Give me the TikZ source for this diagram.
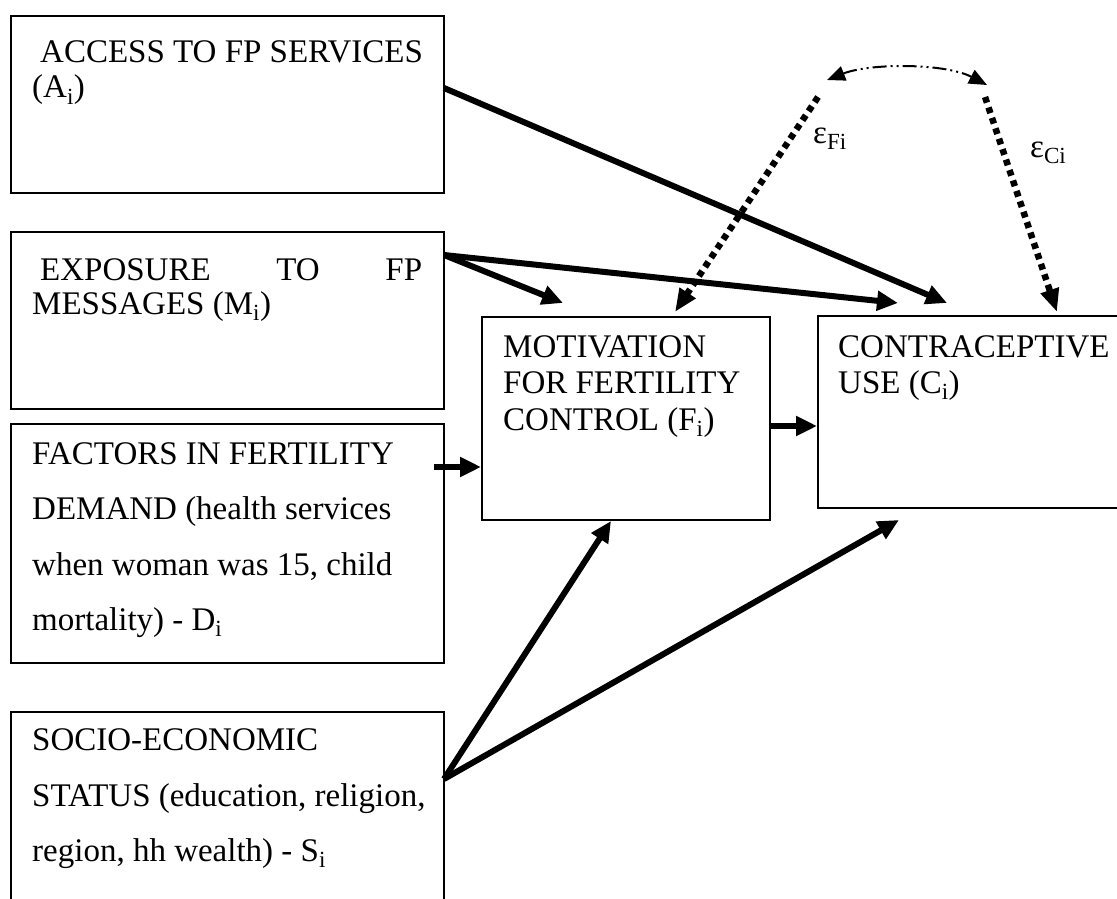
\documentclass[tikz,border=0pt]{standalone}
\usepackage{fontspec}
\setmainfont{Liberation Serif}
\usetikzlibrary{arrows.meta}
\begin{document}
\begin{tikzpicture}[x=1pt,y=-1pt,
  box/.style={draw, line width=2pt, inner sep=0pt},
  txt/.style={inner sep=0pt, anchor=base west, font=\fontsize{33}{36}\selectfont},
  thickarrow/.style={line width=6pt, -{Triangle[length=21pt,width=19pt]}},
  dotarrow/.style={line width=6.5pt, dash pattern=on 6pt off 5pt, -{Triangle[length=23pt,width=18pt]}},
  corr/.style={line width=2pt, dash pattern=on 14pt off 4pt on 2pt off 4pt on 2pt off 4pt,
    {Triangle[length=18pt,width=15pt]}-{Triangle[length=18pt,width=15pt]}}]
\useasboundingbox (0,0) rectangle (1117,899);
% boxes
\node[box, minimum width=433pt, minimum height=177pt] (A) at (227.5,104.5) {};
\node[box, minimum width=433pt, minimum height=177pt] (M) at (227.5,320.5) {};
\node[box, minimum width=433pt, minimum height=239pt] (D) at (227.5,543.5) {};
\node[box, minimum width=433pt, minimum height=208pt] (S) at (227.5,816) {};
\node[box, minimum width=288pt, minimum height=203pt] (F) at (626,418.5) {};
\node[box, minimum width=307pt, minimum height=192pt] (C) at (971.5,412) {};
% texts
\node[txt] (tA1) at (40,63) {ACCESS TO FP SERVICES};
\node[txt] (tA2) at (32,98) {(A\textsubscript{i})};
\node[txt] (tM1) at (40,280) {\hbox to 382pt{EXPOSURE\hfill TO\hfill FP}};
\node[txt] (tM2) at (32,314) {MESSAGES (M\textsubscript{i})};
\node[txt] (tD1) at (32,464) {FACTORS IN FERTILITY};
\node[txt] (tD2) at (32,519) {DEMAND (health services};
\node[txt] (tD3) at (32,575) {when woman was 15, child};
\node[txt] (tD4) at (32,630) {mortality) - D\textsubscript{i}};
\node[txt] (tS1) at (32,750) {SOCIO-ECONOMIC};
\node[txt] (tS2) at (32,806) {STATUS (education, religion,};
\node[txt] (tS3) at (32,861) {region, hh wealth) - S\textsubscript{i}};
\node[txt] (tF1) at (503,357) {MOTIVATION};
\node[txt] (tF2) at (503,393) {FOR FERTILITY};
\node[txt] (tF3) at (503,430) {CONTROL (F\textsubscript{i})};
\node[txt] (tC1) at (838,357) {CONTRACEPTIVE};
\node[txt] (tC2) at (838,393) {USE (C\textsubscript{i})};
\node[txt] (eF) at (813,143) {ε\textsubscript{Fi}};
\node[txt] (eC) at (1030,157) {ε\textsubscript{Ci}};
% connector end points
\coordinate (a0) at (444,88);
\coordinate (cA) at (947,303);
\coordinate (m0) at (444,255);
\coordinate (fM) at (563,303);
\coordinate (cM) at (898,303);
\coordinate (d0) at (434,467);
\coordinate (f0) at (770,426);
\coordinate (s0) at (444,779);
\coordinate (fS) at (611,521);
\coordinate (cS) at (899,520);
\coordinate (eF0) at (818,97);
\coordinate (fE) at (675,312);
\coordinate (eC0) at (985,97);
\coordinate (cE) at (1057,312);
\coordinate (k1) at (827,80);
\coordinate (k2) at (987,85);
% connectors
\draw[thickarrow] (a0) -- (cA);
\draw[thickarrow] (m0) -- (fM);
\draw[thickarrow] (m0) -- (cM);
\draw[thickarrow] (d0) -- (d0 -| F.west);
\draw[thickarrow] (f0) -- (f0 -| C.west);
\draw[thickarrow] (s0) -- (fS);
\draw[thickarrow] (s0) -- (cS);
\draw[dotarrow] (eF0) -- (fE);
\draw[dotarrow] (eC0) -- (cE);
\draw[corr] (k1) .. controls (870,63) and (945,63) .. (k2);
\end{tikzpicture}
\end{document}
